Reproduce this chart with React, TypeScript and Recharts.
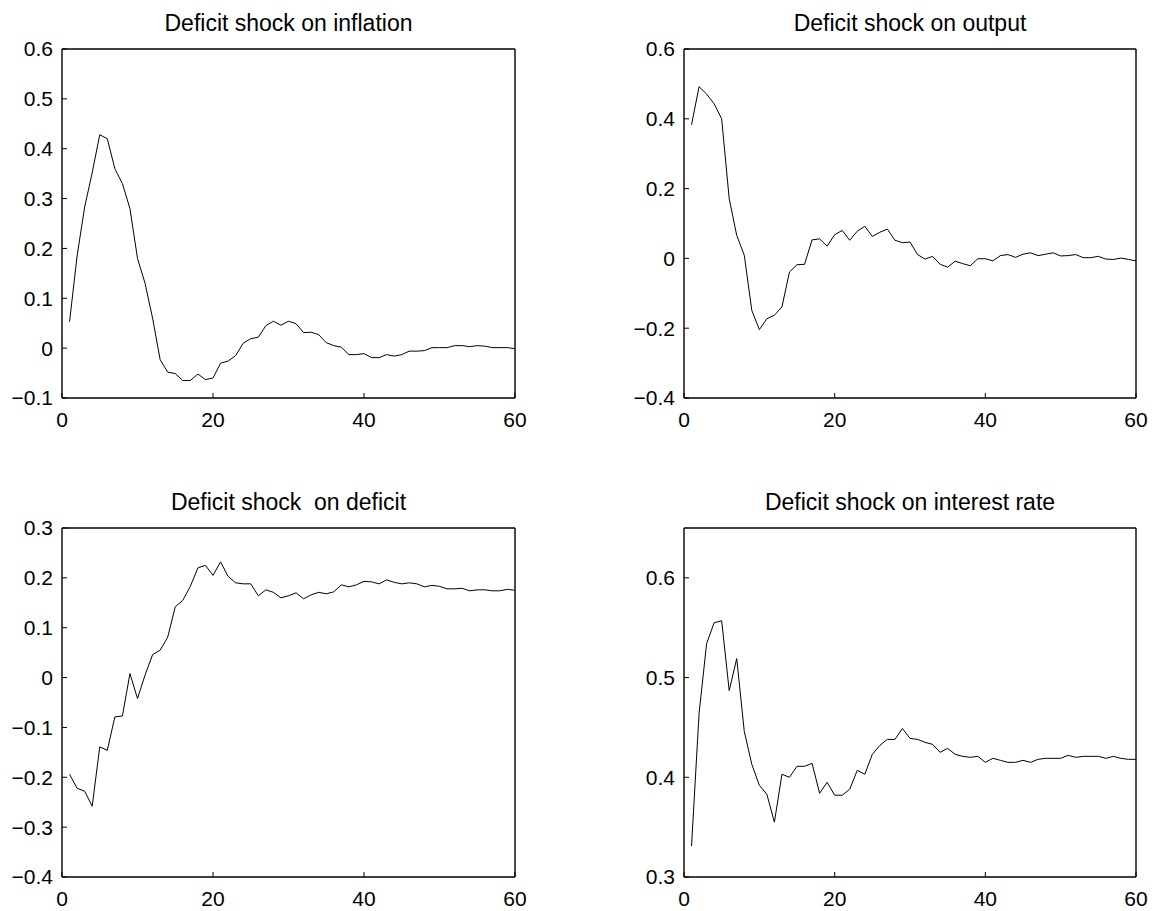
import React from 'react';
import { LineChart, Line, XAxis, YAxis } from 'recharts';

// impulse horizon (periods 1..60)
const periods = [
  1, 2, 3, 4, 5, 6, 7, 8, 9, 10, 11, 12, 13, 14, 15, 16, 17, 18, 19, 20,
  21, 22, 23, 24, 25, 26, 27, 28, 29, 30, 31, 32, 33, 34, 35, 36, 37, 38, 39, 40,
  41, 42, 43, 44, 45, 46, 47, 48, 49, 50, 51, 52, 53, 54, 55, 56, 57, 58, 59, 60,
];

const inflation = [
  0.053, 0.185, 0.283, 0.352, 0.428, 0.42, 0.36, 0.33, 0.28, 0.18,
  0.13, 0.06, -0.023, -0.048, -0.051, -0.065, -0.065, -0.052, -0.063, -0.06,
  -0.03, -0.026, -0.015, 0.01, 0.019, 0.022, 0.045, 0.054, 0.046, 0.054,
  0.049, 0.031, 0.032, 0.027, 0.011, 0.005, 0.002, -0.013, -0.013, -0.011,
  -0.019, -0.019, -0.013, -0.016, -0.013, -0.006, -0.006, -0.005, 0.001, 0.001,
  0.001, 0.005, 0.005, 0.003, 0.005, 0.004, 0.001, 0.001, 0.001, -0.001,
];

const output = [
  0.383, 0.492, 0.471, 0.443, 0.4, 0.171, 0.066, 0.009, -0.149, -0.204,
  -0.173, -0.163, -0.139, -0.039, -0.018, -0.017, 0.053, 0.056, 0.035, 0.068,
  0.08, 0.052, 0.078, 0.092, 0.063, 0.075, 0.084, 0.052, 0.045, 0.047,
  0.011, -0.002, 0.006, -0.017, -0.025, -0.008, -0.015, -0.021, -0.001, -0.001,
  -0.007, 0.008, 0.011, 0.003, 0.012, 0.016, 0.008, 0.012, 0.016, 0.007,
  0.008, 0.011, 0.002, 0.002, 0.006, -0.002, -0.003, 0.001, -0.003, -0.007,
];

const deficit = [
  -0.194, -0.222, -0.228, -0.258, -0.139, -0.146, -0.079, -0.077, 0.008, -0.042,
  0.005, 0.046, 0.055, 0.081, 0.142, 0.155, 0.183, 0.22, 0.225, 0.205,
  0.232, 0.203, 0.19, 0.188, 0.188, 0.164, 0.176, 0.171, 0.16, 0.164,
  0.17, 0.158, 0.166, 0.171, 0.168, 0.172, 0.186, 0.182, 0.186, 0.193,
  0.192, 0.188, 0.196, 0.191, 0.188, 0.19, 0.188, 0.182, 0.185, 0.183,
  0.178, 0.178, 0.179, 0.174, 0.176, 0.176, 0.174, 0.174, 0.177, 0.175,
];

const interestRate = [
  0.331, 0.464, 0.534, 0.555, 0.557, 0.487, 0.519, 0.446, 0.413, 0.392,
  0.383, 0.355, 0.403, 0.4, 0.411, 0.411, 0.414, 0.384, 0.395, 0.382,
  0.382, 0.388, 0.407, 0.403, 0.423, 0.432, 0.438, 0.438, 0.449, 0.439,
  0.438, 0.435, 0.433, 0.425, 0.429, 0.423, 0.421, 0.42, 0.421, 0.415,
  0.419, 0.417, 0.415, 0.415, 0.417, 0.415, 0.418, 0.419, 0.419, 0.419,
  0.422, 0.42, 0.421, 0.421, 0.421, 0.419, 0.421, 0.419, 0.418, 0.418,
];

const xTicks = [0, 20, 40, 60];
const inflationTicks = [-0.1, 0, 0.1, 0.2, 0.3, 0.4, 0.5, 0.6];
const outputTicks = [-0.4, -0.2, 0, 0.2, 0.4, 0.6];
const deficitTicks = [-0.4, -0.3, -0.2, -0.1, 0, 0.1, 0.2, 0.3];
const rateTicks = [0.3, 0.4, 0.5, 0.6];

const FONT = '"Liberation Sans", Arial, Helvetica, sans-serif';
const Y_W = 62;
const TOP = 49;
const X_H = 40;
const RIGHT = 14;

const fmt = (v: number) => String(v).replace('-', '\u2212');

interface PanelProps {
  left: number;
  top: number;
  plotW: number;
  plotH: number;
  title: string;
  values: number[];
  domain: [number, number];
  yTicks: number[];
}

function Panel({ left, top, plotW, plotH, title, values, domain, yTicks }: PanelProps) {
  const data = periods.map((t, i) => ({ t, v: values[i] }));
  const w = Y_W + plotW + 1 + RIGHT;
  const h = TOP + plotH + X_H;
  const frame = { stroke: '#000', strokeWidth: 1.4 };
  const tickLine = { stroke: '#000', strokeWidth: 1 };
  const tickText = { fill: '#000', fontSize: 21, fontFamily: FONT };

  return (
    <div style={{ position: 'absolute', left, top, width: w, height: h }}>
      <div
        style={{
          position: 'absolute',
          left: Y_W,
          top: 12,
          width: plotW,
          textAlign: 'center',
          fontFamily: FONT,
          fontSize: 23,
          lineHeight: '23px',
          color: '#000',
          whiteSpace: 'pre',
        }}
      >
        {title}
      </div>
      <LineChart width={w} height={h} data={data} margin={{ top: TOP - 1, right: RIGHT, bottom: 0, left: 0 }}>
        <XAxis
          xAxisId="b"
          type="number"
          dataKey="t"
          domain={[0, 60]}
          ticks={xTicks}
          interval={0}
          allowDataOverflow
          height={X_H}
          axisLine={frame}
          tickLine={tickLine}
          tickSize={-5}
          tickMargin={19.5}
          tick={tickText}
        />
        <XAxis
          xAxisId="t"
          orientation="top"
          type="number"
          dataKey="t"
          domain={[0, 60]}
          ticks={xTicks}
          interval={0}
          allowDataOverflow
          height={1}
          axisLine={frame}
          tickLine={tickLine}
          tickSize={-5}
          tick={false}
        />
        <YAxis
          yAxisId="l"
          type="number"
          domain={domain}
          ticks={yTicks}
          interval={0}
          allowDataOverflow
          width={Y_W}
          axisLine={frame}
          tickLine={tickLine}
          tickSize={-5}
          tickMargin={14}
          tick={tickText}
          tickFormatter={fmt}
        />
        <YAxis
          yAxisId="r"
          orientation="right"
          type="number"
          domain={domain}
          ticks={yTicks}
          interval={0}
          allowDataOverflow
          width={1}
          axisLine={frame}
          tickLine={tickLine}
          tickSize={-5}
          tick={false}
        />
        <Line
          xAxisId="b"
          yAxisId="l"
          type="linear"
          dataKey="v"
          stroke="#000"
          strokeWidth={1}
          dot={false}
          activeDot={false}
          isAnimationActive={false}
        />
      </LineChart>
    </div>
  );
}

export default function App() {
  return (
    <div style={{ position: 'absolute', left: 0, top: 0, width: 1154, height: 911, background: '#fff' }}>
      <Panel left={0} top={0} plotW={453} plotH={349} title="Deficit shock on inflation"
        values={inflation} domain={[-0.1, 0.6]} yTicks={inflationTicks} />
      <Panel left={622} top={0} plotW={452} plotH={349} title="Deficit shock on output"
        values={output} domain={[-0.4, 0.6]} yTicks={outputTicks} />
      <Panel left={0} top={479} plotW={453} plotH={349} title="Deficit shock  on deficit"
        values={deficit} domain={[-0.4, 0.3]} yTicks={deficitTicks} />
      <Panel left={622} top={479} plotW={452} plotH={349} title="Deficit shock on interest rate"
        values={interestRate} domain={[0.3, 0.65]} yTicks={rateTicks} />
    </div>
  );
}
